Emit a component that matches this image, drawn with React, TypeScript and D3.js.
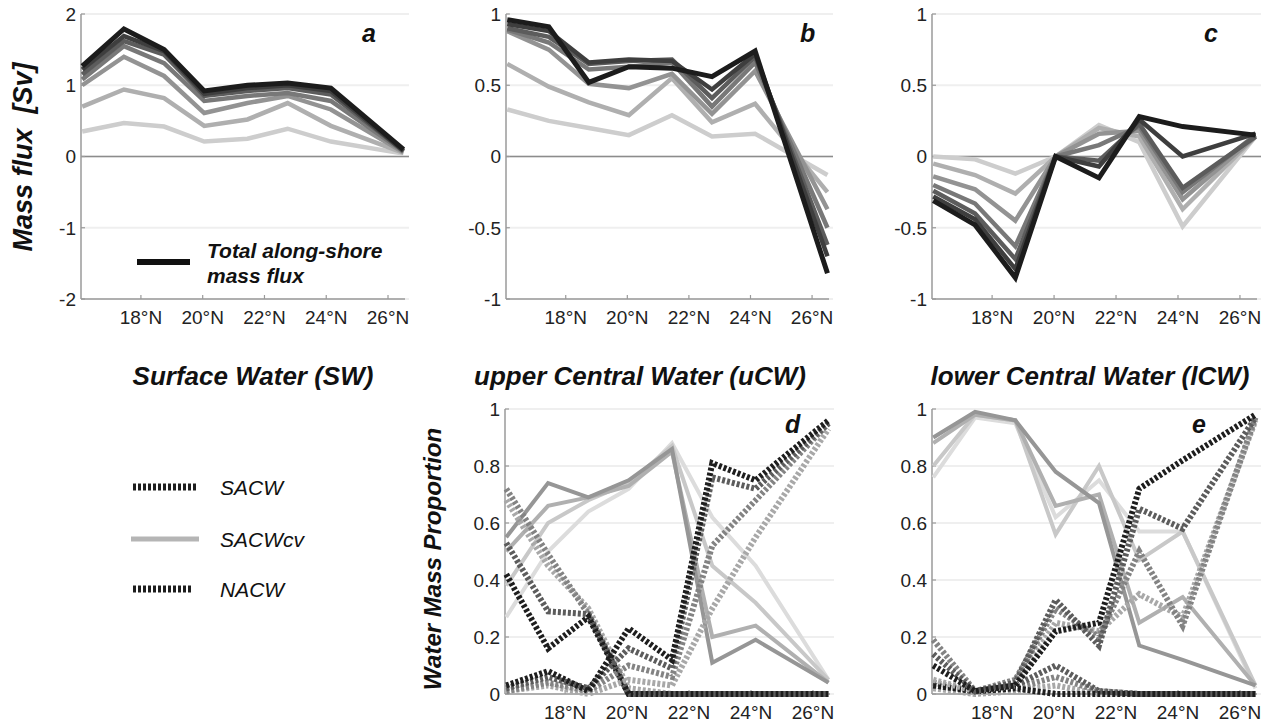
import React from "react";
import * as d3 from "d3";

// ---------- data ----------
const LAT = [16.1, 17.45, 18.75, 20.05, 21.45, 22.75, 24.15, 26.5];
const X_TICKS = [18, 20, 22, 24, 26];
const X_TICK_LABELS = ["18°N", "20°N", "22°N", "24°N", "26°N"];
const Y_TICKS_A = [-2, -1, 0, 1, 2];
const Y_TICKS_BC = [-1, -0.5, 0, 0.5, 1];
const Y_TICKS_DE = [0, 0.2, 0.4, 0.6, 0.8, 1];

// Panel a: Surface Water mass flux (light -> dark = shallow -> total)
const SW_1 = [0.35, 0.47, 0.42, 0.21, 0.25, 0.39, 0.21, 0.04];
const SW_2 = [0.70, 0.94, 0.82, 0.43, 0.52, 0.75, 0.43, 0.05];
const SW_3 = [1.00, 1.40, 1.13, 0.61, 0.75, 0.85, 0.66, 0.06];
const SW_4 = [1.08, 1.55, 1.31, 0.78, 0.85, 0.89, 0.78, 0.07];
const SW_5 = [1.15, 1.62, 1.43, 0.85, 0.92, 0.96, 0.87, 0.08];
const SW_6 = [1.22, 1.69, 1.48, 0.88, 0.96, 1.00, 0.92, 0.08];
const SW_7 = [1.27, 1.79, 1.50, 0.92, 1.00, 1.03, 0.96, 0.10];

// Panel b: upper Central Water
const UCW_1 = [0.33, 0.25, 0.20, 0.15, 0.29, 0.14, 0.16, -0.13];
const UCW_2 = [0.65, 0.49, 0.38, 0.29, 0.55, 0.24, 0.37, -0.25];
const UCW_3 = [0.88, 0.75, 0.51, 0.48, 0.58, 0.30, 0.60, -0.37];
const UCW_4 = [0.89, 0.80, 0.61, 0.63, 0.66, 0.35, 0.66, -0.50];
const UCW_5 = [0.90, 0.84, 0.65, 0.67, 0.68, 0.41, 0.70, -0.62];
const UCW_6 = [0.93, 0.88, 0.66, 0.68, 0.67, 0.47, 0.72, -0.70];
const UCW_7 = [0.96, 0.91, 0.52, 0.63, 0.62, 0.56, 0.74, -0.82];

// Panel c: lower Central Water
const LCW_1 = [0.00, -0.02, -0.12, 0.00, 0.22, 0.10, -0.49, 0.14];
const LCW_2 = [-0.05, -0.13, -0.26, 0.00, 0.20, 0.14, -0.37, 0.14];
const LCW_3 = [-0.14, -0.23, -0.45, 0.00, 0.16, 0.18, -0.30, 0.14];
const LCW_4 = [-0.20, -0.33, -0.63, 0.00, 0.08, 0.21, -0.25, 0.15];
const LCW_5 = [-0.24, -0.40, -0.72, 0.00, -0.03, 0.23, -0.22, 0.14];
const LCW_6 = [-0.28, -0.44, -0.79, 0.00, -0.07, 0.26, 0.00, 0.16];
const LCW_7 = [-0.31, -0.48, -0.85, 0.00, -0.15, 0.28, 0.21, 0.15];

// Panel d: uCW water mass proportions
const D_SACWCV_1 = [0.55, 0.74, 0.69, 0.75, 0.86, 0.11, 0.19, 0.04];
const D_SACWCV_2 = [0.50, 0.66, 0.69, 0.73, 0.85, 0.20, 0.24, 0.04];
const D_SACWCV_3 = [0.38, 0.60, 0.68, 0.74, 0.87, 0.45, 0.32, 0.05];
const D_SACWCV_4 = [0.27, 0.50, 0.64, 0.72, 0.88, 0.62, 0.45, 0.05];
const D_SACW_1 = [0.42, 0.16, 0.27, 0.00, 0.00, 0.00, 0.00, 0.00];
const D_SACW_2 = [0.53, 0.29, 0.28, 0.00, 0.00, 0.00, 0.00, 0.00];
const D_SACW_3 = [0.72, 0.49, 0.28, 0.00, 0.00, 0.00, 0.00, 0.00];
const D_SACW_4 = [0.68, 0.45, 0.30, 0.02, 0.00, 0.00, 0.00, 0.00];
const D_NACW_1 = [0.03, 0.08, 0.01, 0.23, 0.12, 0.81, 0.75, 0.96];
const D_NACW_2 = [0.02, 0.06, 0.02, 0.16, 0.09, 0.76, 0.72, 0.95];
const D_NACW_3 = [0.01, 0.04, 0.01, 0.10, 0.06, 0.52, 0.68, 0.95];
const D_NACW_4 = [0.01, 0.03, 0.00, 0.05, 0.03, 0.30, 0.55, 0.93];

// Panel e: lCW water mass proportions
const E_SACWCV_1 = [0.90, 0.99, 0.96, 0.78, 0.67, 0.17, 0.12, 0.03];
const E_SACWCV_2 = [0.88, 0.98, 0.96, 0.66, 0.70, 0.25, 0.34, 0.03];
const E_SACWCV_3 = [0.80, 0.98, 0.96, 0.56, 0.80, 0.47, 0.57, 0.03];
const E_SACWCV_4 = [0.76, 0.97, 0.95, 0.62, 0.75, 0.57, 0.57, 0.02];
const E_SACW_1 = [0.03, 0.01, 0.02, 0.00, 0.00, 0.00, 0.00, 0.00];
const E_SACW_2 = [0.04, 0.01, 0.03, 0.10, 0.01, 0.00, 0.00, 0.00];
const E_SACW_3 = [0.03, 0.01, 0.02, 0.06, 0.01, 0.00, 0.00, 0.00];
const E_SACW_4 = [0.02, 0.00, 0.01, 0.03, 0.00, 0.00, 0.00, 0.00];
const E_NACW_1 = [0.10, 0.01, 0.03, 0.22, 0.25, 0.72, 0.82, 0.98];
const E_NACW_2 = [0.14, 0.01, 0.04, 0.33, 0.17, 0.65, 0.58, 0.97];
const E_NACW_3 = [0.19, 0.01, 0.05, 0.30, 0.20, 0.50, 0.24, 0.97];
const E_NACW_4 = [0.05, 0.01, 0.03, 0.25, 0.22, 0.35, 0.27, 0.96];

// ---------- styles ----------
const FONT = "'Liberation Sans', Arial, Helvetica, sans-serif";
const FLUX_COLORS = ["#cdcdcd", "#afafaf", "#939393", "#787878", "#5c5c5c", "#3e3e3e", "#1c1c1c"];
const CV_COLORS = ["#969696", "#b0b0b0", "#c8c8c8", "#dcdcdc"];
const DOT_COLORS = ["#1e1e1e", "#5c5c5c", "#838383", "#a8a8a8"];
const DOT_DASH = "3 2";

type Series = { values: number[]; color: string; width: number; dash?: string };

type Frame = { x0: number; x1: number; y0: number; y1: number };

function Panel(props: {
  frame: Frame;
  yDomain: [number, number];
  yTicks: number[];
  label: string;
  labelX: number;
  labelY: number;
  series: Series[];
  zeroLine: boolean;
}) {
  const { frame, yDomain, yTicks, label, labelX, labelY, series, zeroLine } = props;
  const x = d3.scaleLinear().domain([16.06, 26.55]).range([frame.x0, frame.x1]);
  const y = d3.scaleLinear().domain(yDomain).range([frame.y1, frame.y0]);
  const line = d3
    .line<number>()
    .x((_, i) => x(LAT[i]))
    .y((v) => y(v));
  const axisColor = "#9a9a9a";
  return (
    <g>
      {yTicks.map((t) => (
        <line
          key={"g" + t}
          x1={frame.x0}
          x2={frame.x1 + 4}
          y1={y(t)}
          y2={y(t)}
          stroke="#efefef"
          strokeWidth={2}
        />
      ))}
      {zeroLine && (
        <line x1={frame.x0} x2={frame.x1 + 4} y1={y(0)} y2={y(0)} stroke="#8c8c8c" strokeWidth={1.6} />
      )}
      {/* axes */}
      <line x1={frame.x0} x2={frame.x0} y1={frame.y0} y2={frame.y1} stroke={axisColor} strokeWidth={1.5} />
      <line x1={frame.x0} x2={frame.x1} y1={frame.y1} y2={frame.y1} stroke={axisColor} strokeWidth={1.5} />
      {X_TICKS.map((t, i) => (
        <g key={"x" + t}>
          <line x1={x(t)} x2={x(t)} y1={frame.y1} y2={frame.y1 - 4} stroke={axisColor} strokeWidth={1.2} />
          <text
            x={x(t)}
            y={frame.y1 + 25}
            textAnchor="middle"
            fontSize={19}
            fontFamily={FONT}
            fill="#222"
          >
            {X_TICK_LABELS[i]}
          </text>
        </g>
      ))}
      {yTicks.map((t) => (
        <g key={"y" + t}>
          <line x1={frame.x0} x2={frame.x0 + 4} y1={y(t)} y2={y(t)} stroke={axisColor} strokeWidth={1.2} />
          <text
            x={frame.x0 - 5}
            y={y(t)}
            dy="0.36em"
            textAnchor="end"
            fontSize={19}
            fontFamily={FONT}
            fill="#222"
          >
            {String(t)}
          </text>
        </g>
      ))}
      {series.map((s, i) => (
        <path
          key={"s" + i}
          d={line(s.values) || ""}
          fill="none"
          stroke={s.color}
          strokeWidth={s.width}
          strokeDasharray={s.dash}
          strokeLinejoin="miter"
          strokeMiterlimit={3}
        />
      ))}
      <text
        x={labelX}
        y={labelY}
        fontSize={25}
        fontWeight="bold"
        fontStyle="italic"
        fontFamily={FONT}
        fill="#111"
      >
        {label}
      </text>
    </g>
  );
}

function fluxSeries(list: number[][]): Series[] {
  return list.map((v, i) => ({ values: v, color: FLUX_COLORS[i], width: i === list.length - 1 ? 5 : 4.5 }));
}

function massSeries(cv: number[][], sacw: number[][], nacw: number[][]): Series[] {
  const out: Series[] = [];
  for (let i = cv.length - 1; i >= 0; i--) out.push({ values: cv[i], color: CV_COLORS[i], width: 4 });
  for (let i = sacw.length - 1; i >= 0; i--)
    out.push({ values: sacw[i], color: DOT_COLORS[i], width: 6, dash: DOT_DASH });
  for (let i = nacw.length - 1; i >= 0; i--)
    out.push({ values: nacw[i], color: DOT_COLORS[i], width: 6, dash: DOT_DASH });
  return out;
}

export default function App() {
  const top = { y0: 14, y1: 299 };
  const bot = { y0: 409, y1: 694 };
  const frameA: Frame = { x0: 81, x1: 405, ...top };
  const frameB: Frame = { x0: 506, x1: 829, ...top };
  const frameC: Frame = { x0: 932, x1: 1257, ...top };
  const frameD: Frame = { x0: 505, x1: 830, ...bot };
  const frameE: Frame = { x0: 932, x1: 1257, ...bot };

  const titleStyle = {
    fontSize: 26,
    fontWeight: "bold" as const,
    fontStyle: "italic" as const,
    fontFamily: FONT,
    fill: "#111",
  };

  return (
    <svg
      width={1282}
      height={724}
      style={{ position: "absolute", left: 0, top: 0, background: "#fff" }}
    >
      <rect x={0} y={0} width={1282} height={724} fill="#fff" />
      <Panel
        frame={frameA}
        yDomain={[-2, 2]}
        yTicks={Y_TICKS_A}
        label="a"
        labelX={362}
        labelY={42}
        zeroLine
        series={fluxSeries([SW_1, SW_2, SW_3, SW_4, SW_5, SW_6, SW_7])}
      />
      <Panel
        frame={frameB}
        yDomain={[-1, 1]}
        yTicks={Y_TICKS_BC}
        label="b"
        labelX={800}
        labelY={42}
        zeroLine
        series={fluxSeries([UCW_1, UCW_2, UCW_3, UCW_4, UCW_5, UCW_6, UCW_7])}
      />
      <Panel
        frame={frameC}
        yDomain={[-1, 1]}
        yTicks={Y_TICKS_BC}
        label="c"
        labelX={1204}
        labelY={42}
        zeroLine
        series={fluxSeries([LCW_1, LCW_2, LCW_3, LCW_4, LCW_5, LCW_6, LCW_7])}
      />
      <Panel
        frame={frameD}
        yDomain={[0, 1]}
        yTicks={Y_TICKS_DE}
        label="d"
        labelX={785}
        labelY={433}
        zeroLine={false}
        series={massSeries(
          [D_SACWCV_1, D_SACWCV_2, D_SACWCV_3, D_SACWCV_4],
          [D_SACW_1, D_SACW_2, D_SACW_3, D_SACW_4],
          [D_NACW_1, D_NACW_2, D_NACW_3, D_NACW_4]
        )}
      />
      <Panel
        frame={frameE}
        yDomain={[0, 1]}
        yTicks={Y_TICKS_DE}
        label="e"
        labelX={1192}
        labelY={433}
        zeroLine={false}
        series={massSeries(
          [E_SACWCV_1, E_SACWCV_2, E_SACWCV_3, E_SACWCV_4],
          [E_SACW_1, E_SACW_2, E_SACW_3, E_SACW_4],
          [E_NACW_1, E_NACW_2, E_NACW_3, E_NACW_4]
        )}
      />

      {/* legend in panel a */}
      <line x1={137} x2={190} y1={262} y2={262} stroke="#111" strokeWidth={6} />
      <text x={207} y={258} fontSize={21} fontWeight="bold" fontStyle="italic" fontFamily={FONT} fill="#111">
        Total along-shore
      </text>
      <text x={207} y={283} fontSize={21} fontWeight="bold" fontStyle="italic" fontFamily={FONT} fill="#111">
        mass flux
      </text>

      {/* y labels */}
      <text
        transform="translate(32,157) rotate(-90)"
        textAnchor="middle"
        fontSize={27}
        fontWeight="bold"
        fontStyle="italic"
        fontFamily={FONT}
        fill="#111"
        style={{ whiteSpace: "pre" }}
      >
        {"Mass flux  [Sv]"}
      </text>
      <text
        transform="translate(441,559) rotate(-90)"
        textAnchor="middle"
        fontSize={24}
        fontWeight="bold"
        fontStyle="italic"
        fontFamily={FONT}
        fill="#111"
      >
        Water Mass Proportion
      </text>

      {/* row titles */}
      <text x={253} y={385} textAnchor="middle" {...titleStyle}>
        Surface Water (SW)
      </text>
      <text x={640} y={385} textAnchor="middle" {...titleStyle}>
        upper Central Water (uCW)
      </text>
      <text x={1090} y={385} textAnchor="middle" {...titleStyle}>
        lower Central Water (lCW)
      </text>

      {/* water mass legend */}
      <line x1={133} x2={197} y1={487} y2={487} stroke="#1e1e1e" strokeWidth={7} strokeDasharray={DOT_DASH} />
      <text x={220} y={495} fontSize={21} fontStyle="italic" fontFamily={FONT} fill="#111">
        SACW
      </text>
      <line x1={131} x2={199} y1={539} y2={539} stroke="#b5b5b5" strokeWidth={5} />
      <text x={220} y={547} fontSize={21} fontStyle="italic" fontFamily={FONT} fill="#111">
        SACWcv
      </text>
      <line x1={133} x2={193} y1={589} y2={589} stroke="#1e1e1e" strokeWidth={7} strokeDasharray={DOT_DASH} />
      <text x={220} y={597} fontSize={21} fontStyle="italic" fontFamily={FONT} fill="#111">
        NACW
      </text>
    </svg>
  );
}
